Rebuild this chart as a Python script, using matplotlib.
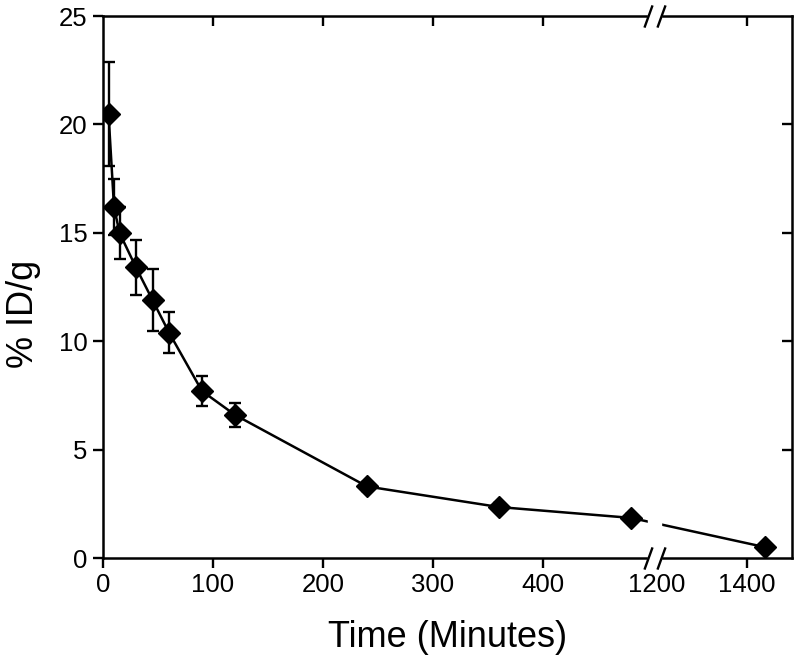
import numpy as np
import matplotlib.pyplot as plt

plt.rcParams['font.family'] = ['Liberation Sans', 'DejaVu Sans']

# data
time_min = [5, 10, 15, 30, 45, 60, 90, 120, 240, 360, 480, 1440]
pct_id_g = [20.5, 16.2, 15.0, 13.4, 11.9, 10.4, 7.7, 6.6, 3.3, 2.35, 1.85, 0.5]
sd = [2.4, 1.3, 1.2, 1.25, 1.45, 0.95, 0.7, 0.57, 0.2, 0.2, 0.2, 0.15]

xticks = [0, 100, 200, 300, 400, 1200, 1400]
top_ticks = [100, 200, 300, 400, 1400]
yticks = [0, 5, 10, 15, 20, 25]

# broken x axis: 0-500 full scale, then 1200-1500 squeezed
brk_x = [-1000, 500, 1200, 3000]
brk_u = [-1000, 500, 503.6, 503.6 + 1800 * 0.409]


def fwd(x):
    return np.interp(x, brk_x, brk_u)


def inv(u):
    return np.interp(u, brk_u, brk_x)


fig = plt.figure(figsize=(8, 6.71), dpi=100)
ax = fig.add_axes([103 / 800, 113 / 671, 689 / 800, 542 / 671])
ax.set_xscale('function', functions=(fwd, inv))

ax.errorbar(time_min, pct_id_g, yerr=sd, fmt='-D', color='black', ms=11.5,
            lw=1.8, elinewidth=1.7, capsize=4.5, capthick=1.7)

ax.set_xlim(0, 1500)
ax.set_ylim(0, 25)
ax.set_xticks(xticks)
ax.set_yticks(yticks)
ax.tick_params(direction='out', length=7, width=1.7, labelsize=18.5, pad=4)
for s in ax.spines.values():
    s.set_linewidth(1.8)

ax.set_xlabel('Time (Minutes)', fontsize=26)
ax.xaxis.set_label_coords(0.5, -0.115)
ax.set_ylabel('% ID/g', fontsize=26)
ax.yaxis.set_label_coords(-0.09, 0.451)

# axis break: white gap plus // marks
ax.axvspan(495.5, 1209, ymin=-0.025, ymax=1.025, color='white', zorder=4,
           clip_on=False)
for yy in [0, 1]:
    ax.plot([495.5, 1209], [yy, yy], transform=ax.get_xaxis_transform(),
            ls='none', marker=[(-4, -11), (4, 11)], ms=16, mew=1.7,
            color='black', clip_on=False, zorder=5)

# inward ticks on right and top
axr = ax.twinx()
axr.set_ylim(0, 25)
axr.set_yticks([5, 10, 15, 20])
axr.tick_params(direction='in', length=7, width=1.7, labelright=False)
for s in axr.spines.values():
    s.set_visible(False)

axt = ax.twiny()
axt.set_xscale('function', functions=(fwd, inv))
axt.set_xlim(0, 1500)
axt.set_xticks(top_ticks)
axt.tick_params(direction='in', length=7, width=1.7, labeltop=False)
for s in axt.spines.values():
    s.set_visible(False)

fig.savefig('out.png', dpi=100)
